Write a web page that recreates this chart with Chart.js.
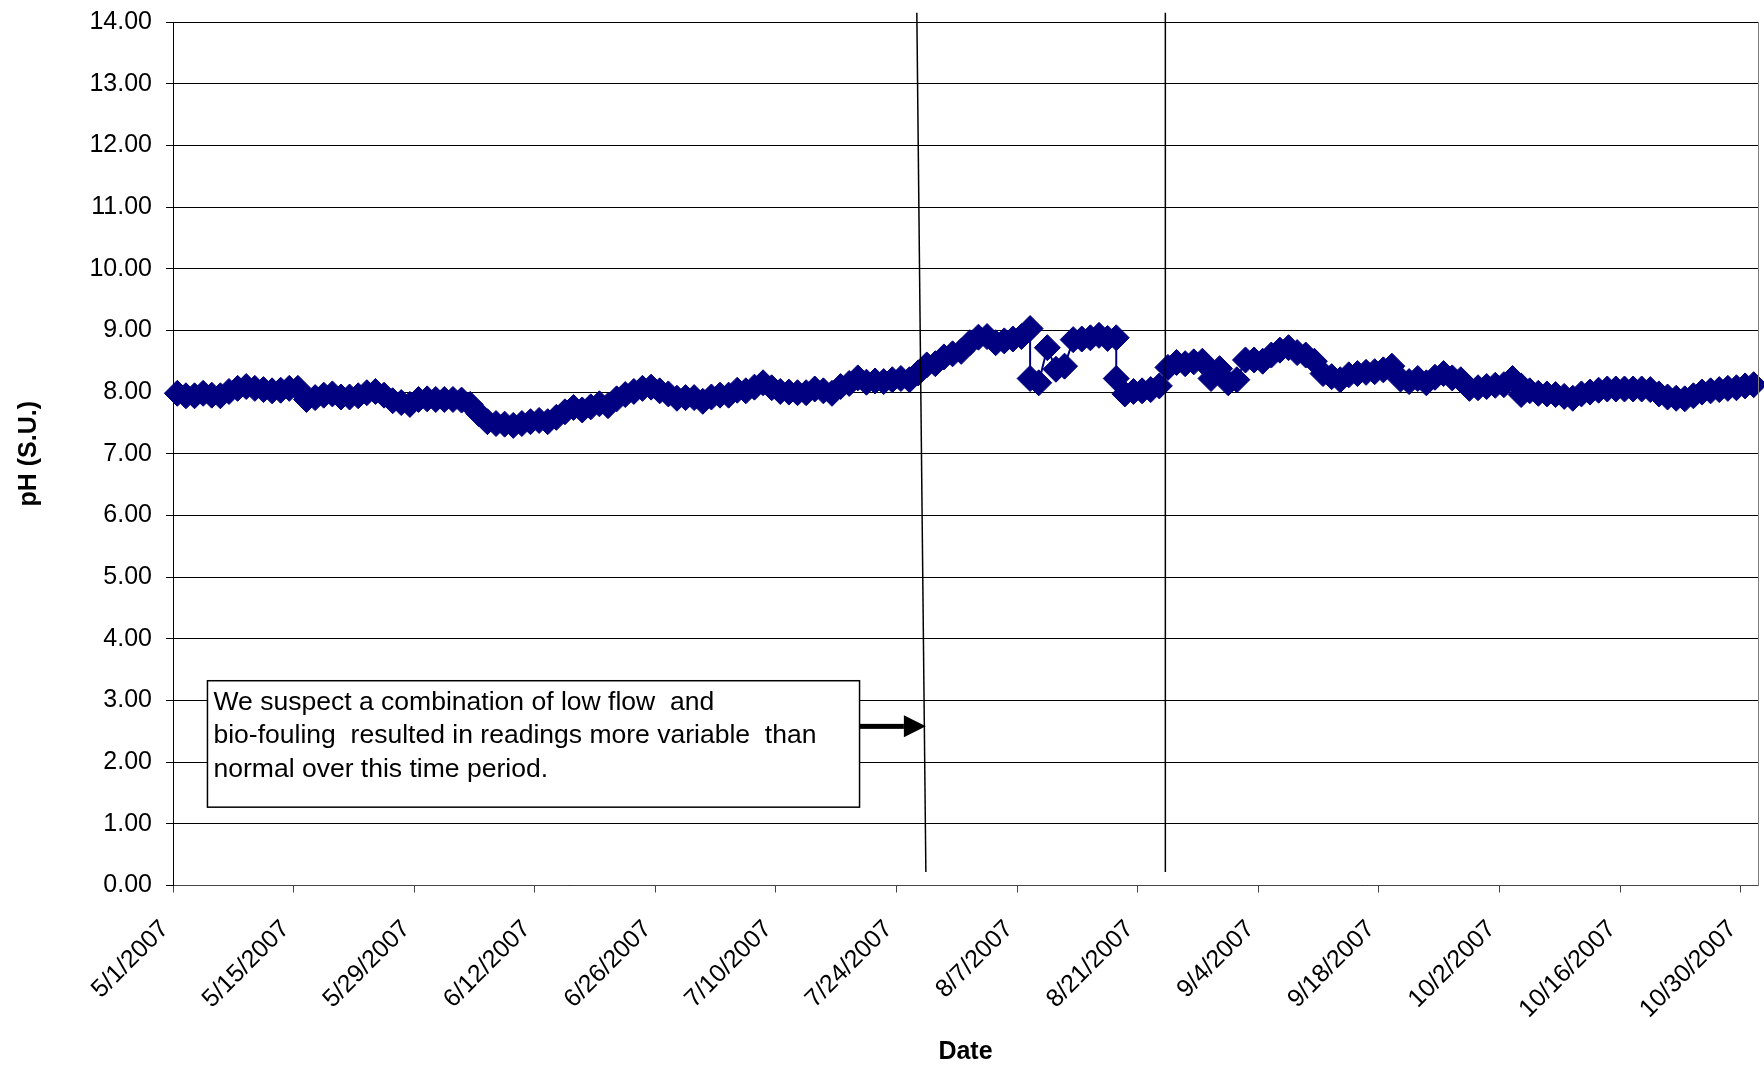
<!DOCTYPE html>
<html>
<head>
<meta charset="utf-8">
<title>pH (S.U.) by Date</title>
<script src="https://cdn.jsdelivr.net/npm/chart.js@4.4.0/dist/chart.umd.min.js"></script>
<style>
  html, body { margin: 0; padding: 0; background: #fff; }
  #wrap { width: 1764px; height: 1070px; }
</style>
</head>
<body>
<div id="wrap"><canvas id="ph" width="1764" height="1070"></canvas></div>
<script>
// Daily pH readings (S.U.), one entry per calendar day; a pair means two readings that day.
const mayPH = [7.98, 7.94, 7.94, 7.98, 7.95, 7.94, 8.01, 8.06, 8.09, 8.06, 8.04, 8.02, 8.03, 8.06, 8.06,
               7.88, 7.91, 7.95, 7.97, 7.92, 7.92, 7.94, 7.99, 8.01, 7.95, 7.86, 7.83, 7.80, 7.88, 7.89, 7.88];
const junePH = [7.88, 7.88, 7.87, 7.80, 7.65, 7.52, 7.49, 7.48, 7.46, 7.49, 7.52, 7.54, 7.52, 7.59, 7.68,
                7.75, 7.71, 7.76, 7.81, 7.78, 7.89, 7.96, 8.01, 8.06, 8.08, 8.02, 7.97, 7.90, 7.91, 7.91];
const julyPH = [7.85, 7.92, 7.95, 7.95, 8.03, 8.02, 8.08, 8.15, 8.07, 8.01, 8.00, 7.99, 7.99, 8.05, 8.02,
                7.98, 8.09, 8.14, 8.23, 8.16, 8.18, 8.17, 8.20, 8.22, 8.20, 8.31, 8.44, 8.46, 8.57, 8.62, 8.66];
const augustPH = [8.80, 8.89, 8.90, 8.80, 8.83, 8.86, 8.90, [9.03, 8.22], 8.15, 8.72, 8.37, 8.42, 8.85, 8.86, 8.88,
                  8.92, 8.87, [8.88, 8.22], 7.97, 8.01, 8.02, 8.04, 8.10, 8.40, 8.48, 8.46, 8.49, 8.50, 8.22, 8.38, 8.15];
const septemberPH = [8.20, 8.52, 8.52, 8.50, 8.60, 8.68, 8.72, 8.64, 8.60, 8.50, 8.30, 8.25, 8.20, 8.28, 8.30,
                     8.32, 8.33, 8.36, 8.42, 8.21, 8.17, 8.22, 8.15, 8.24, 8.30, 8.23, 8.20, 8.06, 8.07, 8.09];
const octoberPH = [8.11, 8.12, 8.22, [8.10, 7.96], 8.02, 7.98, 7.97, 7.96, 7.93, 7.90, 7.97, 8.00, 8.03, 8.05, 8.05,
                   8.05, 8.05, 8.05, 8.04, 7.97, 7.92, 7.90, 7.89, 7.94, 8.00, 8.02, 8.04, 8.06, 8.07, 8.10, 8.12];

// Month number (1-12) for each block of readings above.
const readingMonths = [5, 6, 7, 8, 9, 10];
const readingBlocks = [mayPH, junePH, julyPH, augustPH, septemberPH, octoberPH];

// Date axis labels and range.
const tickLabels = ['5/1/2007', '5/15/2007', '5/29/2007', '6/12/2007', '6/26/2007', '7/10/2007', '7/24/2007',
                    '8/7/2007', '8/21/2007', '9/4/2007', '9/18/2007', '10/2/2007', '10/16/2007', '10/30/2007'];
const axisStart = '5/1/2007';
const axisEnd = '11/1/2007';
const yTicks = [0, 1, 2, 3, 4, 5, 6, 7, 8, 9, 10, 11, 12, 13, 14];

// Text of the note box.
const noteLines = ['We suspect a combination of low flow  and',
                   'bio-fouling  resulted in readings more variable  than',
                   'normal over this time period.'];

const NAVY = '#000080';
const FONT = "'Liberation Sans', Arial, Helvetica, sans-serif";
const DAY = 86400000;

function parseMDY(s) {
  const [m, d, y] = s.split('/').map(Number);
  return Date.UTC(y, m - 1, d);
}
const t0 = parseMDY(axisStart);
const dayOf = s => (parseMDY(s) - t0) / DAY;

// Readings are plotted at midday of their date.
const points = [];
readingBlocks.forEach((block, bi) => {
  block.forEach((v, i) => {
    const x = (Date.UTC(2007, readingMonths[bi] - 1, i + 1) - t0) / DAY + 0.5;
    (Array.isArray(v) ? v : [v]).forEach(val => points.push({ x, y: val }));
  });
});

const tickDays = tickLabels.map(dayOf);
const labelByDay = {};
tickLabels.forEach((s, i) => { labelByDay[tickDays[i]] = s; });

// Note box, arrow and the two lines bracketing the period (in axis units: days, pH).
const note = {
  box: { x0: 4.0, x1: 79.7, y0: 3.32, y1: 1.27 },
  lineYs: [2.96, 2.42, 1.87],
  textWidth: 603,
  arrow: { x0: 79.7, x1: 87.4, y: 2.58 },
  bracketLines: [
    { x0: 86.35, y0: 14.15, x1: 87.4, y1: 0.22 },
    { x0: 115.2, y0: 14.15, x1: 115.2, y1: 0.22 }
  ]
};

const notePlugin = {
  id: 'periodNote',
  afterDatasetsDraw(chart) {
    const { ctx, scales: { x, y }, chartArea } = chart;
    ctx.save();
    // gray frame on the right side of the plot area
    ctx.strokeStyle = '#808080';
    ctx.lineWidth = 1;
    ctx.beginPath();
    ctx.moveTo(Math.round(chartArea.right) + 0.5, Math.round(chartArea.top));
    ctx.lineTo(Math.round(chartArea.right) + 0.5, Math.round(chartArea.bottom));
    ctx.stroke();

    // bracket lines
    ctx.strokeStyle = '#000';
    ctx.lineWidth = 1.5;
    note.bracketLines.forEach(l => {
      ctx.beginPath();
      ctx.moveTo(x.getPixelForValue(l.x0), y.getPixelForValue(l.y0));
      ctx.lineTo(x.getPixelForValue(l.x1), y.getPixelForValue(l.y1));
      ctx.stroke();
    });

    // note box
    const bx0 = x.getPixelForValue(note.box.x0), bx1 = x.getPixelForValue(note.box.x1);
    const by0 = y.getPixelForValue(note.box.y0), by1 = y.getPixelForValue(note.box.y1);
    ctx.fillStyle = '#fff';
    ctx.fillRect(bx0, by0, bx1 - bx0, by1 - by0);
    ctx.strokeStyle = '#000';
    ctx.lineWidth = 1.5;
    ctx.strokeRect(bx0, by0, bx1 - bx0, by1 - by0);

    ctx.fillStyle = '#000';
    ctx.font = '26px ' + FONT;
    ctx.textBaseline = 'middle';
    ctx.textAlign = 'left';
    const widest = Math.max(...noteLines.map(t => ctx.measureText(t).width));
    const sx = note.textWidth / widest;
    noteLines.forEach((t, i) => {
      ctx.save();
      ctx.translate(bx0 + 6, y.getPixelForValue(note.lineYs[i]));
      ctx.scale(sx, 1);
      ctx.fillText(t, 0, 0);
      ctx.restore();
    });

    // arrow
    const ax0 = x.getPixelForValue(note.arrow.x0), ax1 = x.getPixelForValue(note.arrow.x1);
    const ay = y.getPixelForValue(note.arrow.y);
    const head = 22;
    ctx.fillStyle = '#000';
    ctx.fillRect(ax0, ay - 2.5, ax1 - ax0 - head, 5);
    ctx.beginPath();
    ctx.moveTo(ax1 - head, ay - 11);
    ctx.lineTo(ax1, ay);
    ctx.lineTo(ax1 - head, ay + 11);
    ctx.closePath();
    ctx.fill();
    ctx.restore();
  }
};

new Chart(document.getElementById('ph'), {
  type: 'line',
  data: {
    datasets: [{
      label: 'pH',
      data: points,
      borderColor: NAVY,
      backgroundColor: NAVY,
      borderWidth: 2,
      pointStyle: 'rectRot',
      pointRadius: 13,
      pointBorderWidth: 1,
      pointBackgroundColor: NAVY,
      pointBorderColor: NAVY,
      tension: 0,
      clip: false
    }]
  },
  options: {
    responsive: false,
    animation: false,
    devicePixelRatio: 1,
    layout: { autoPadding: false, padding: { left: 0, right: 6, top: 22, bottom: 0 } },
    plugins: { legend: { display: false }, tooltip: { enabled: false } },
    scales: {
      x: {
        type: 'linear',
        min: dayOf(axisStart),
        max: dayOf(axisEnd),
        afterBuildTicks: s => { s.ticks = tickDays.map(v => ({ value: v })); },
        afterFit: s => { s.height = 184.5; s.paddingLeft = 0; s.paddingRight = 0; },
        ticks: {
          autoSkip: false,
          minRotation: 45,
          maxRotation: 45,
          padding: 22,
          labelOffset: -8,
          color: '#000',
          font: { family: FONT, size: 25 },
          callback: v => labelByDay[v] || ''
        },
        grid: { drawOnChartArea: false, drawTicks: true, tickLength: 7, color: '#444' },
        border: { color: '#444', width: 1 },
        title: {
          display: true, text: 'Date', color: '#000',
          font: { family: FONT, size: 25, weight: 'bold' },
          padding: { top: 0, bottom: 3 }
        }
      },
      y: {
        min: 0,
        max: 14,
        afterBuildTicks: s => { s.ticks = yTicks.map(v => ({ value: v })); },
        afterFit: s => { s.width = 173; s.paddingTop = 0; s.paddingBottom = 0; },
        ticks: {
          padding: 14,
          color: '#000',
          font: { family: FONT, size: 25 },
          callback: v => Number(v).toFixed(2)
        },
        grid: { color: '#000', lineWidth: 1, tickLength: 7 },
        border: { color: '#000', width: 1 },
        title: {
          display: true, text: 'pH (S.U.)', color: '#000',
          font: { family: FONT, size: 25, weight: 'bold' },
          padding: { top: 14, bottom: 0 }
        }
      }
    }
  },
  plugins: [notePlugin]
});
</script>
</body>
</html>
